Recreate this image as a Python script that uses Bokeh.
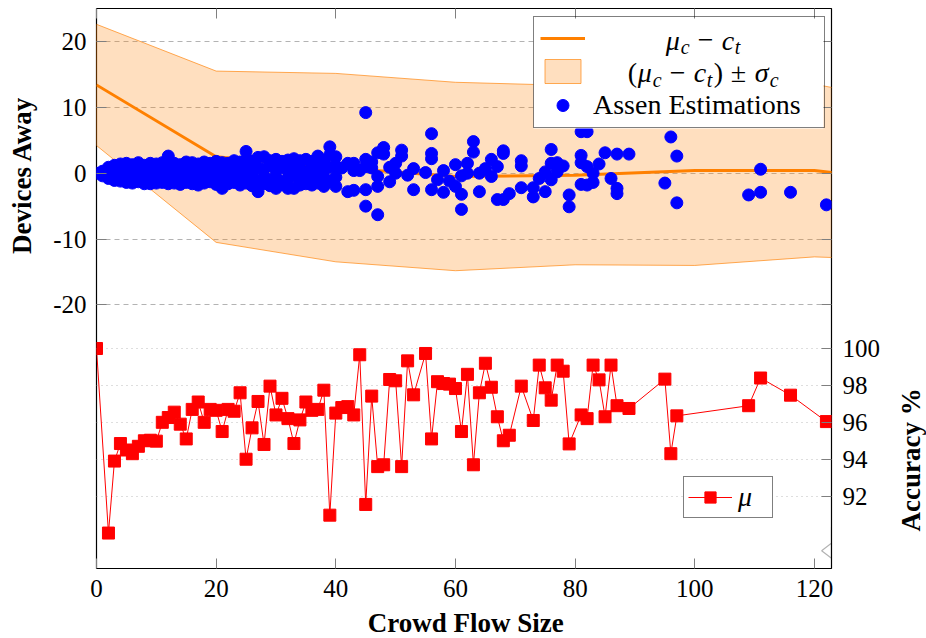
import math
from bokeh.plotting import figure
from bokeh.models import (Range1d, LinearAxis, FixedTicker, Grid, Legend, LegendItem,
                          Label, PolyAnnotation, BoxAnnotation)
from bokeh.embed import file_html
from bokeh.resources import INLINE

# ---------------- data ----------------
x_ticks = [0, 20, 40, 60, 80, 100, 120]
away_ticks = [-20, -10, 0, 10, 20]
acc_ticks = [92, 94, 96, 98, 100]

# mean difference and spread (orange line and band)
band_x = [0, 20, 40, 60, 80, 100, 120, 123]
band_mean = [13.4, 2.5, 0.85, -0.5, -0.3, 0.4, 0.4, 0.1]
band_sigma = [9.2, 13.0, 14.3, 14.3, 13.6, 14.4, 13.1, 12.9]

# Assen estimations (blue dots)
est_x = [
    0,
    1, 1, 1,
    2, 2, 2, 2,
    3, 3, 3, 3,
    4, 4, 4, 4,
    5, 5, 5, 5,
    6, 6, 6, 6,
    7, 7, 7, 7,
    8, 8, 8, 8,
    9, 9, 9, 9,
    10, 10, 10, 10,
    11, 11, 11, 11,
    12, 12, 12, 12,
    13, 13, 13, 13,
    14, 14, 14, 14,
    15, 15, 15, 15,
    16, 16, 16, 16,
    17, 17, 17, 17,
    18, 18, 18, 18,
    19, 19, 19, 19,
    20, 20, 20, 20,
    21, 21, 21, 21,
    22, 22, 22, 22,
    23, 23, 23, 23,
    24, 24, 24, 24,
    25, 25, 25, 25, 25,
    26, 26, 26, 26,
    27, 27, 27, 27,
    28, 28, 28, 28,
    29, 29, 29, 29,
    30, 30, 30, 30,
    31, 31, 31, 31,
    32, 32, 32, 32,
    33, 33, 33, 33,
    34, 34, 34, 34,
    35, 35, 35, 35,
    36, 36, 36, 36,
    37, 37, 37, 37,
    38, 38, 38, 38,
    39, 39, 39, 39,
    40, 40, 40, 40,
    41,
    42, 42,
    43, 43, 43,
    44,
    45, 45, 45, 45, 45,
    46, 46,
    47, 47, 47, 47,
    48, 48,
    49, 49,
    50, 50,
    51, 51,
    52,
    53, 53,
    55,
    56, 56, 56, 56,
    57,
    58, 58,
    59,
    60, 60,
    61, 61, 61,
    62, 62,
    63, 63,
    64, 64,
    65,
    66, 66,
    67, 67,
    68, 68, 68,
    69,
    71, 71, 71,
    73, 73,
    74,
    75, 75,
    76, 76, 76,
    77, 77,
    78,
    79, 79,
    81, 81, 81, 81,
    82, 82, 82,
    83, 83,
    84,
    85,
    86,
    87, 87, 87,
    89,
    95,
    96,
    97, 97,
    109,
    111, 111,
    116,
    122,
]
est_y = [
    0.0,
    0.3, -0.4, 0.0,
    0.9, -0.8, 0.2, -0.3,
    1.2, -1.1, 0.4, -0.5,
    1.4, -1.2, 0.6, -0.2,
    1.5, -1.4, 0.5, -0.6,
    1.3, -1.5, 0.8, -0.3,
    1.6, -1.3, 0.2, -0.8,
    1.2, -1.6, 0.7, -0.4,
    1.5, -1.6, 0.3, -0.9,
    1.4, -1.5, 0.9, -0.2,
    1.6, -1.4, 0.4, -0.7,
    2.6, -1.6, 1.1, -0.3,
    1.5, -1.5, 0.6, -0.9,
    1.3, -1.7, 0.2, -0.5,
    1.7, -1.4, 0.8, -0.8,
    1.6, -1.6, 0.5, -0.2,
    1.4, -1.8, 1.0, -0.6,
    1.7, -1.5, 0.3, -1.0,
    1.5, -1.3, 0.7, -0.4,
    1.8, -1.7, 0.2, -0.9,
    1.6, -2.3, 0.9, -0.5,
    1.5, -1.6, 0.4, -1.1,
    1.9, -1.4, 0.6, -0.3,
    1.7, -1.8, 1.1, -0.7,
    3.3, -1.5, 0.5, -0.9, 2.0,
    1.8, -1.9, 0.2, -0.4,
    2.4, -2.8, 0.8, -1.2,
    2.5, -1.6, 0.6, -0.5,
    1.9, -1.9, 1.2, -1.0,
    2.1, -2.3, 0.4, -0.6,
    1.8, -1.7, 0.9, -1.3,
    2.0, -2.3, 0.3, -0.8,
    2.2, -2.3, 1.0, -0.4,
    1.9, -1.8, 0.6, -1.2,
    2.1, -1.6, 0.2, -0.7,
    1.8, -1.8, 1.3, -0.3,
    2.6, -1.5, 0.7, -1.0,
    1.9, -2.0, 0.4, -0.6,
    4.0, 2.8, 0.9, -1.2,
    2.5, 1.1, -0.6, -2.0,
    0.8,
    1.5, -2.8,
    1.5, -2.6, 0.4,
    0.4,
    9.2, 2.1, 1.0, -2.5, -5.0,
    1.7, 0.8,
    3.1, -0.5, -2.0, -6.3,
    3.9, 2.9,
    -1.3, 0.9,
    1.5, 0.0,
    3.5, 2.6,
    -0.3,
    0.7, -2.5,
    0.1,
    6.0, 3.0, 2.2, -2.5,
    -1.0,
    0.4, -2.9,
    -1.2,
    1.3, -2.0,
    -0.4, -3.2, -5.5,
    1.5, 0.0,
    4.8, 3.2,
    0.0, -2.8,
    0.7,
    2.1, -0.5,
    1.0, -4.0,
    3.4, 3.0, -4.0,
    -3.1,
    1.9, 1.1, -2.2,
    -2.2, -3.6,
    -0.8,
    0.2, -2.8,
    3.6, 1.5, -1.0,
    1.6, 0.2,
    1.1,
    -3.3, -5.1,
    6.3, 2.7, 1.6, -1.7,
    6.3, 1.0, -1.8,
    0.0, -1.4,
    1.4,
    3.1,
    -0.8,
    2.9, -2.3, -3.1,
    2.9,
    -1.5,
    5.5,
    2.6, -4.5,
    -3.3,
    0.6, -2.9,
    -2.9,
    -4.8,
]

# accuracy (red squares)
acc_x = [0, 2, 3, 4, 5, 6, 7, 8, 9, 10,
         11, 12, 13, 14, 15, 16, 17, 18, 19, 20,
         21, 22, 23, 24, 25, 26, 27, 28, 29, 30,
         31, 32, 33, 34, 35, 36, 37, 38, 39, 40,
         41, 42, 43, 44, 45, 46, 47, 48, 49, 50,
         51, 52, 53, 55, 56, 57, 58, 59, 60, 61,
         62, 63, 64, 65, 66, 67, 68, 69, 71, 73,
         74, 75, 76, 77, 78, 79, 81, 82, 83, 84,
         85, 86, 87, 89, 95, 96, 97, 109, 111, 116,
         122]
acc_y = [100.0, 90.0, 93.9, 94.85, 94.5, 94.3, 94.7, 95.0, 95.03, 94.98,
         96.0, 96.26, 96.55, 95.9, 95.1, 96.7, 97.1, 96.0, 96.7, 96.65,
         95.5, 96.7, 96.6, 97.6, 94.0, 95.7, 97.13, 94.8, 97.96, 96.4,
         97.3, 96.2, 94.85, 96.13, 97.1, 96.65, 96.7, 97.74, 90.97, 96.5,
         96.8, 96.85, 96.4, 99.66, 91.55, 97.42, 93.6, 93.7, 98.32, 98.25,
         93.6, 99.33, 97.49, 99.73, 95.1, 98.2, 98.1, 98.07, 97.83, 95.5,
         98.6, 93.7, 97.6, 99.2, 97.9, 96.3, 95.0, 95.3, 97.96, 96.1,
         99.1, 97.87, 97.2, 99.1, 98.77, 94.83, 96.4, 96.2, 99.1, 98.3,
         96.3, 99.1, 96.9, 96.75, 98.34, 94.3, 96.35, 96.9, 98.4, 97.47,
         96.04]

assert len(est_x) == len(est_y)
assert len(acc_x) == len(acc_y)

# ---------------- styles ----------------
FONT = "Liberation Serif"
ORANGE = "#ff8000"
TICK_GRAY = "#7f7f7f"

band_upper = [m + s for m, s in zip(band_mean, band_sigma)]
band_lower = [m - s for m, s in zip(band_mean, band_sigma)]

p = figure(width=926, height=638, output_backend="svg", toolbar_location=None,
           x_range=Range1d(0, 122.85), y_range=Range1d(-60, 25),
           min_border_left=96, min_border_right=95, min_border_top=8,
           min_border_bottom=70)
p.extra_y_ranges = {"acc": Range1d(88.08, 118.42)}
p.background_fill_color = "white"
p.border_fill_color = "white"
p.outline_line_color = "black"
p.outline_line_width = 1.2
p.outline_line_alpha = 1.0

def style_axis(ax, font_size="25px"):
    ax.major_tick_in = 10
    ax.major_tick_out = 0
    ax.minor_tick_in = 0
    ax.minor_tick_out = 0
    ax.major_tick_line_color = TICK_GRAY
    ax.axis_line_color = None
    ax.major_label_text_font = FONT
    ax.major_label_text_font_size = font_size
    ax.major_label_text_color = "black"

# bottom axis
xa = p.xaxis[0]
xa.ticker = FixedTicker(ticks=x_ticks)
style_axis(xa)
xa.major_label_standoff = 11

# left axis
ya = p.yaxis[0]
ya.ticker = FixedTicker(ticks=away_ticks)
ya.bounds = (-20, 20)
style_axis(ya)
ya.major_label_overrides = {t: str(t) for t in away_ticks}
ya.major_label_standoff = 10

# top axis (ticks only)
ta = LinearAxis(ticker=FixedTicker(ticks=x_ticks))
style_axis(ta)
ta.major_label_overrides = {t: "" for t in x_ticks}
ta.major_label_standoff = 0
p.add_layout(ta, "above")

# right side: mirrored ticks of the left axis (no labels), then the accuracy axis
rm = LinearAxis(ticker=FixedTicker(ticks=away_ticks), bounds=(-20, 20))
style_axis(rm)
rm.major_label_overrides = {t: "" for t in away_ticks}
rm.major_label_standoff = 0
p.add_layout(rm, "right")

ra = LinearAxis(y_range_name="acc", ticker=FixedTicker(ticks=acc_ticks), bounds=(88, 100))
style_axis(ra)
ra.major_label_standoff = 11
p.add_layout(ra, "right")

# grids
p.xgrid.visible = False
p.ygrid.grid_line_color = "#b3b3b3"
p.ygrid.grid_line_dash = "5 4"
p.ygrid.grid_line_width = 1
acc_grid = Grid(dimension=1, y_range_name="acc", ticker=FixedTicker(ticks=acc_ticks),
                grid_line_color="#bdbdbd", grid_line_dash="1 4", grid_line_width=1)
p.add_layout(acc_grid)

# ---------------- glyphs ----------------
band_r = p.patch(band_x + band_x[::-1], band_upper + band_lower[::-1],
                 fill_color=ORANGE, fill_alpha=0.25,
                 line_color=ORANGE, line_alpha=0.65, line_width=1)
mean_r = p.line(band_x, band_mean, line_color=ORANGE, line_width=3)
est_r = p.scatter(est_x, est_y, marker="circle", size=12,
                  fill_color="#0000ff", line_color="#0000ff")

acc_line = p.line(acc_x, acc_y, y_range_name="acc", line_color="#ff0000", line_width=1)
acc_pts = p.scatter(acc_x, acc_y, y_range_name="acc", marker="square", size=12,
                    fill_color="#ff0000", line_color="#ff0000")

# ---------------- axis titles (placed in the side panels, so they are not clipped) ----
def axis_title(text, x, y, angle, side, range_name="default"):
    p.add_layout(Label(x=x, y=y, text=text, angle=angle, y_range_name=range_name,
                       text_font=FONT, text_font_style="bold", text_font_size="27px",
                       text_align="center", text_baseline="middle", text_color="black"),
                 side)

axis_title("Devices Away", -12.5, -0.3, math.pi / 2, "left")
axis_title("Accuracy %", 136.1, 93.97, math.pi / 2, "right", "acc")
axis_title("Crowd Flow Size", 61.7, -68.2, 0, "below")

# ---------------- legends ----------------
# white background of the upper legend (legend itself is drawn transparent on top)
p.add_layout(BoxAnnotation(left=73.04, right=121.51, bottom=6.79, top=23.18,
                           fill_color="white", fill_alpha=1.0, line_color=None))

leg1 = Legend(items=[LegendItem(label=" ", renderers=[mean_r]),
                     LegendItem(label=" ", renderers=[band_r]),
                     LegendItem(label="Assen Estimations", renderers=[est_r])],
              location=(437, 440))
leg1.label_text_font = FONT
leg1.label_text_font_size = "28px"
leg1.label_text_color = "black"
leg1.glyph_width = 45
leg1.glyph_height = 30
leg1.label_height = 30
leg1.label_width = 225
leg1.label_standoff = 8
leg1.spacing = 3
leg1.padding = 6
leg1.margin = 0
leg1.border_line_color = "black"
leg1.border_line_width = 1.2
leg1.background_fill_alpha = 0.0
p.add_layout(leg1)

leg2 = Legend(items=[LegendItem(label="μ", renderers=[acc_line, acc_pts])],
              location=(587, 50))
leg2.label_text_font = FONT
leg2.label_text_font_style = "italic"
leg2.label_text_font_size = "28px"
leg2.label_text_color = "black"
leg2.glyph_width = 44
leg2.glyph_height = 28
leg2.label_height = 28
leg2.label_width = 30
leg2.label_standoff = 6
leg2.padding = 4
leg2.margin = 0
leg2.border_line_color = "black"
leg2.border_line_width = 1.2
leg2.background_fill_color = "white"
leg2.background_fill_alpha = 1.0
p.add_layout(leg2)

# math labels of legend rows (text pieces: text, style, size px, dy, width px)
def add_math(pieces, x, y):
    total = sum(w for _, _, _, _, w in pieces)
    off = -total / 2.0
    for text, style, size, dy, w in pieces:
        if text.strip():
            p.add_layout(Label(x=x, y=y, x_offset=off, y_offset=dy, text=text,
                               text_font=FONT, text_font_style=style,
                               text_font_size=f"{size}px", text_align="left",
                               text_baseline="middle", text_color="black"))
        off += w

row1 = [("μ", "italic", 28, 0, 15), ("c", "italic", 20, -7, 10), (" ", "normal", 28, 0, 7),
        ("−", "normal", 28, 0, 17), (" ", "normal", 28, 0, 7),
        ("c", "italic", 28, 0, 13), ("t", "italic", 20, -7, 7)]
row2 = [("(", "normal", 28, 0, 10), ("μ", "italic", 28, 0, 15), ("c", "italic", 20, -7, 10),
        (" ", "normal", 28, 0, 7), ("−", "normal", 28, 0, 17), (" ", "normal", 28, 0, 7),
        ("c", "italic", 28, 0, 13), ("t", "italic", 20, -7, 7), (")", "normal", 28, 0, 10),
        (" ", "normal", 28, 0, 7), ("±", "normal", 28, 0, 17), (" ", "normal", 28, 0, 7),
        ("σ", "italic", 28, 0, 15), ("c", "italic", 20, -7, 10)]
add_math(row1, 101.5, 20.2)
add_math(row2, 101.5, 15.25)

# axis break mark on the right spine
xe = p.x_range.end
p.add_layout(PolyAnnotation(xs=[xe, xe + 1.8, xe - 1.65, xe],
                            ys=[-53.7, -54.9, -57.3, -58.45],
                            fill_color=None, line_color="black", line_width=1.2))

open("out.html", "w").write(file_html(p, INLINE))
